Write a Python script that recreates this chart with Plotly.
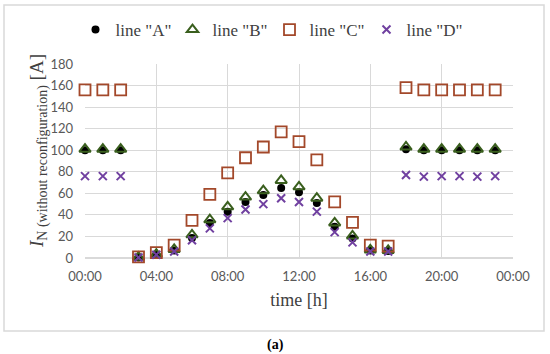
import plotly.graph_objects as go

hours = list(range(24))
line_a = [100, 100, 100, 0.5, 3, 7, 18.5, 32.5, 43, 52, 58.5, 65, 61, 51, 29, 18, 7, 6.5, 101, 100, 100, 100, 100, 100]
line_b = [101, 101, 101, 0.8, 3.5, 8, 21.5, 35.5, 47.5, 56.5, 62.5, 72, 66, 55.5, 32.5, 20.5, 7.5, 7, 103, 101, 101, 101, 101, 101]
line_c = [156, 156, 156, 1, 5, 12, 35, 59, 79, 93, 103, 117, 108, 91, 52, 33, 12, 11, 158, 156, 156, 156, 156, 156]
line_d = [76, 76, 76, 0.5, 3, 6, 16.5, 27.5, 37, 45, 50, 55.5, 52, 43, 24, 14.5, 6, 6, 77, 75.5, 76, 76, 75.5, 76]

x_tickvals = [0, 4, 8, 12, 16, 20, 24]
x_ticktext = ["00:00", "04:00", "08:00", "12:00", "16:00", "20:00", "00:00"]

serif = "Liberation Serif, DejaVu Serif, serif"
sans = "Lato, Open Sans, sans-serif"

L, R, T, B = 85, 37, 64, 96
PW, PH = 550 - L - R, 354 - T - B


def px_x(p):
    return (p - L) / PW


def px_y(p):
    return (354 - B - p) / PH


fig = go.Figure()
fig.add_trace(go.Scatter(x=hours, y=line_a, mode="markers", name='line "A"', cliponaxis=False,
                         marker=dict(symbol="circle", size=8, color="#000000")))
fig.add_trace(go.Scatter(x=hours, y=line_b, mode="markers", name='line "B"', cliponaxis=False,
                         marker=dict(symbol="triangle-up-open", size=10, color="#3a5f1e",
                                     line=dict(width=2, color="#3a5f1e"))))
fig.add_trace(go.Scatter(x=hours, y=line_c, mode="markers", name='line "C"', cliponaxis=False,
                         marker=dict(symbol="square-open", size=11, color="#a3482a",
                                     line=dict(width=1.8, color="#a3482a"))))
fig.add_trace(go.Scatter(x=hours, y=line_d, mode="markers", name='line "D"', cliponaxis=False,
                         marker=dict(symbol="x-thin-open", size=8, color="#7040a0",
                                     line=dict(width=2, color="#7040a0"))))

fig.update_layout(
    width=550, height=354,
    margin=dict(l=L, r=R, t=T, b=B, autoexpand=False),
    paper_bgcolor="white", plot_bgcolor="white",
    showlegend=True,
    legend=dict(orientation="h", xref="container", yref="container",
                x=0.49, xanchor="center", y=1 - 30 / 354, yanchor="middle",
                font=dict(family=serif, size=17, color="#404040"),
                itemwidth=30, entrywidth=52, bgcolor="rgba(0,0,0,0)"),
    xaxis=dict(range=[0, 24], tickvals=x_tickvals, ticktext=x_ticktext,
               showgrid=True, gridcolor="#d9d9d9", gridwidth=1,
               zeroline=False, showline=False, ticks="", ticklabelstandoff=9,
               tickfont=dict(family=sans, size=13, color="#595959"),
               title=dict(text="time [h]", font=dict(family=serif, size=18, color="#404040"), standoff=10)),
    yaxis=dict(range=[0, 180], tickvals=list(range(0, 181, 20)),
               showgrid=True, gridcolor="#d9d9d9", gridwidth=1,
               zeroline=True, zerolinecolor="#d9d9d9", showline=False, ticks="", ticklabelstandoff=11,
               tickfont=dict(family=sans, size=13, color="#595959")),
    shapes=[dict(type="rect", xref="paper", yref="paper",
                 x0=px_x(4), x1=px_x(544), y0=px_y(331), y1=px_y(5),
                 line=dict(color="#d9d9d9", width=1.5), layer="below")],
    annotations=[
        dict(text='<i>I</i><sub><span style="font-size:14px">N (without reconfiguration)</span></sub> [A]',
             xref="paper", yref="paper", x=px_x(38), y=px_y(151), textangle=-90,
             xanchor="center", yanchor="middle", showarrow=False,
             font=dict(family=serif, size=19, color="#404040")),
        dict(text="<b>(a)</b>", xref="paper", yref="paper",
             x=px_x(275), y=px_y(345), xanchor="center", yanchor="middle",
             showarrow=False, font=dict(family=serif, size=14, color="#000000")),
    ],
)

fig.write_html("out.html", config={"displayModeBar": False},
               post_script="document.body.style.margin='0';")
